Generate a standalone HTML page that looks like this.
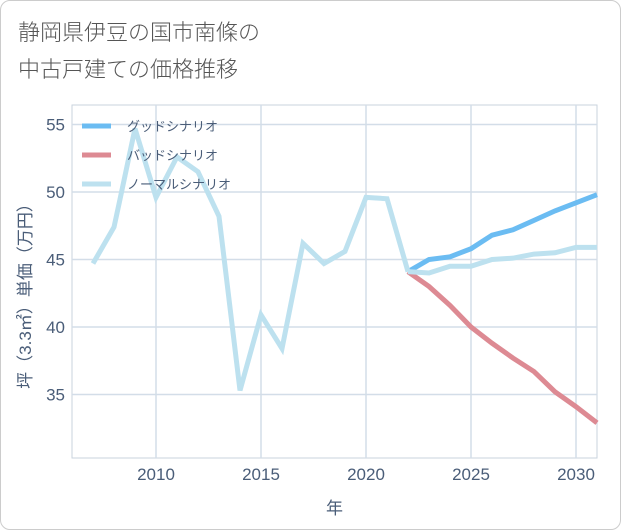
<!DOCTYPE html>
<html><head><meta charset="utf-8"><style>
body{margin:0;background:#fff;font-family:"Liberation Sans","Noto Sans CJK JP",sans-serif}
#card{position:absolute;left:0;top:0;width:619px;height:528px;border:1px solid #ccc;border-radius:10px;background:#fff}
#title{position:absolute;left:18px;top:13px;font-size:22px;line-height:37px;color:#555;font-family:"Noto Sans CJK JP",sans-serif;font-weight:300}
</style></head><body>
<div id="card"></div>
<div id="title">静岡県伊豆の国市南條の<br>中古戸建ての価格推移</div>
<svg id="chart" width="621" height="530" style="position:absolute;left:0;top:0"></svg>
<script>
const histYears=[2007,2008,2008.25,2009,2010,2011,2012,2013,2014,2015,2016,2017,2018,2019,2020,2021,2022];
const histValues=[44.7,47.4,49.2,54.7,49.6,52.6,51.5,48.2,35.3,40.9,38.4,46.2,44.7,45.6,49.6,49.5,44.1];
const futYears=[2022,2023,2024,2025,2026,2027,2028,2029,2030,2031];
const goodValues=[44.1,45.0,45.2,45.8,46.8,47.2,47.9,48.6,49.2,49.8];
const badValues=[44.1,43.0,41.6,40.0,38.8,37.7,36.7,35.2,34.1,32.9];
const normalValues=[44.1,44.0,44.5,44.5,45.0,45.1,45.4,45.5,45.9,45.9];
const xTicks=[2010,2015,2020,2025,2030];
const yTicks=[35,40,45,50,55];
const L=72,R=597,T=105,B=458;
const x=v=>L+(v-2006)*(R-L)/25;
const y=v=>192-(v-50)*13.5;
const svg=document.getElementById('chart');
const NS='http://www.w3.org/2000/svg';
function mk(t,a){const e=document.createElementNS(NS,t);for(const k in a)e.setAttribute(k,a[k]);svg.appendChild(e);return e;}
let e=mk('rect',{x:L,y:T,width:R-L,height:B-T,fill:'none',stroke:'#c9d3de','stroke-width':1});


xTicks.forEach(t=>{
 let g=mk('line',{x1:x(t),x2:x(t),y1:T,y2:B,stroke:'#d3dde8','stroke-width':1.5});
 
 
 let l=mk('text',{x:x(t),y:B+22,'text-anchor':'middle','font-size':17,fill:'#4a5d78'});l.textContent=t;
 
 
});
yTicks.forEach(t=>{
 let g=mk('line',{x1:L,x2:R,y1:y(t),y2:y(t),stroke:'#d3dde8','stroke-width':1.5});
 
 
 let l=mk('text',{x:L-7,y:y(t)+6,'text-anchor':'end','font-size':17,fill:'#4a5d78'});l.textContent=t;
 
 
});
function line(xs,vs,color,name){
 const p=mk('polyline',{points:xs.map((d,i)=>x(d)+','+y(vs[i])).join(' '),fill:'none',stroke:color,'stroke-width':5,'stroke-linejoin':'miter'});
 
 
}
line(futYears,goodValues,'#6bbcf2','good-scenario-line');
line(futYears,badValues,'#dd8a93','bad-scenario-line');
line(futYears,normalValues,'#bde1ef','normal-scenario-line');
line(histYears,histValues,'#bde1ef','history-line');
const legNames=['グッドシナリオ','バッドシナリオ','ノーマルシナリオ'];
const legColors=['#6bbcf2','#dd8a93','#bde1ef'];
legNames.forEach((n,i)=>{
 const yy=126+i*29;
 let s=mk('line',{x1:82,x2:111,y1:yy,y2:yy,stroke:legColors[i],'stroke-width':5});
 
 
 let t=mk('text',{x:127,y:yy+5,'font-size':13,fill:'#4a5d78'});t.textContent=n;
 
 
});
let xt=mk('text',{x:(L+R)/2,y:514,'text-anchor':'middle','font-size':17,fill:'#4a5d78'});xt.textContent='年';


let yt=mk('text',{x:0,y:0,'text-anchor':'middle','font-size':17,fill:'#4a5d78',transform:'translate(31,292) rotate(-90)'});yt.textContent='坪（3.3㎡）単価（万円）';


</script>
</body></html>
